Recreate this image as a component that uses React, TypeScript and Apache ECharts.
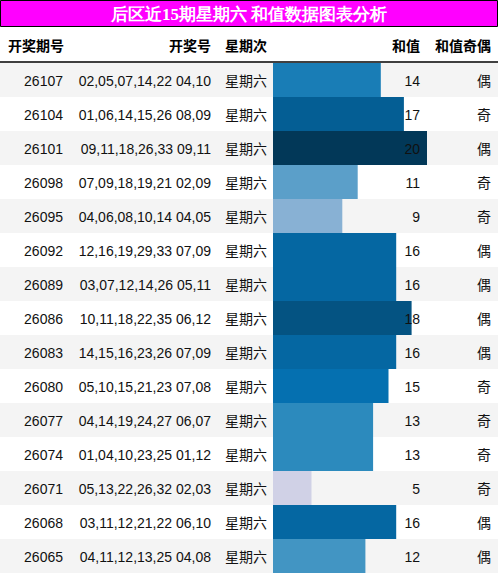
import React, { useEffect, useRef } from "react";
import * as echarts from "echarts";

const periods = ["26107","26104","26101","26098","26095","26092","26089","26086","26083","26080","26077","26074","26071","26068","26065"];
const frontNumbers = ["02,05,07,14,22","01,06,14,15,26","09,11,18,26,33","07,09,18,19,21","04,06,08,10,14","12,16,19,29,33","03,07,12,14,26","10,11,18,22,35","14,15,16,23,26","05,10,15,21,23","04,14,19,24,27","01,04,10,23,25","05,13,22,26,32","03,11,12,21,22","04,11,12,13,25"];
const backNumbers = ["04,10","08,09","09,11","02,09","04,05","07,09","05,11","06,12","07,09","07,08","06,07","01,12","02,03","06,10","04,08"];
const weekdays = ["星期六","星期六","星期六","星期六","星期六","星期六","星期六","星期六","星期六","星期六","星期六","星期六","星期六","星期六","星期六"];
const sums = [14, 17, 20, 11, 9, 16, 16, 18, 16, 15, 13, 13, 5, 16, 12];
const parity = ["偶","奇","偶","奇","奇","偶","偶","偶","偶","奇","奇","奇","奇","偶","偶"];
const headers = ["开奖期号", "开奖号", "星期次", "和值", "和值奇偶"];
const titleText = "后区近15期星期六 和值数据图表分析";
const PuBu = ["#fff7fb","#ece7f2","#d0d1e6","#a6bddb","#74a9cf","#3690c0","#0570b0","#045a8d","#023858"];
const colorMax = 20;

const FONT = "'Liberation Sans', Arial, 'Noto Sans CJK SC', sans-serif";

export default function App() {
  const ref = useRef<HTMLDivElement>(null);
  useEffect(() => {
    document.body.style.margin = "0";
    const chart = echarts.init(ref.current!, null, { renderer: "svg" });
    const rowData = periods.map((_, i) => [0, i]);
    const option: any = {
      animation: false,
      grid: { left: 273, top: 63, width: 154, height: 510 },
      xAxis: { type: "value", min: 0, max: colorMax, show: false },
      yAxis: { type: "category", data: periods, inverse: true, show: false },
      graphic: [
        {
          type: "rect",
          shape: { x: 0.5, y: 0.5, width: 497, height: 26 },
          style: { fill: "#ff00ff", stroke: "#000", lineWidth: 1 },
        },
        {
          type: "text",
          x: 249,
          y: 14,
          style: {
            text: titleText,
            fill: "#fff",
            font: "bold 17px serif",
            align: "center",
            verticalAlign: "middle",
          },
        },
        {
          type: "line",
          shape: { x1: 0, y1: 62, x2: 498, y2: 62 },
          style: { stroke: "#000", lineWidth: 1.5 },
        },
        ...headers.map((h, i) => {
          const pos = [
            { x: 8, align: "left" },
            { x: 211, align: "right" },
            { x: 225, align: "left" },
            { x: 420, align: "right" },
            { x: 491, align: "right" },
          ][i];
          return {
            type: "text",
            x: pos.x,
            y: 46,
            style: {
              text: h,
              fill: "#000",
              font: `bold 14px ${FONT}`,
              align: pos.align,
              verticalAlign: "middle",
            },
          };
        }),
      ],
      series: [
        {
          type: "custom",
          z: 0,
          silent: true,
          data: rowData,
          encode: { x: 0, y: 1 },
          renderItem: (params: any, api: any) => {
            const idx = api.value(1);
            const y = api.coord([0, idx])[1];
            const h = api.size([0, 1])[1];
            return {
              type: "rect",
              shape: { x: 0, y: y - h / 2, width: api.getWidth(), height: h },
              style: { fill: idx % 2 === 0 ? "#f4f4f4" : "#ffffff" },
            };
          },
        },
        {
          type: "bar",
          z: 2,
          silent: true,
          barWidth: "100%",
          barCategoryGap: 0,
          data: sums.map((v, i) => [v, i]),
          encode: { x: 0, y: 1 },
          itemStyle: {
            color: (p: any) => echarts.color.lerp(p.value[0] / colorMax, PuBu),
          },
          label: {
            show: true,
            position: [147, "50%"],
            align: "right",
            verticalAlign: "middle",
            offset: [0, 1],
            color: "#111",
            fontSize: 14,
            fontFamily: FONT,
            textBorderWidth: 0,
            formatter: (p: any) => String(p.value[0]),
          },
        },
        {
          type: "custom",
          z: 10,
          silent: true,
          data: rowData,
          encode: { x: 0, y: 1 },
          renderItem: (params: any, api: any) => {
            const idx = api.value(1);
            const y = api.coord([0, idx])[1];
            const mk = (text: string, x: number, align: string) => ({
              type: "text",
              x,
              y: y + 1,
              style: {
                text,
                fill: "#111",
                font: `14px ${FONT}`,
                align,
                verticalAlign: "middle",
              },
            });
            return {
              type: "group",
              children: [
                mk(periods[idx], 63, "right"),
                mk(frontNumbers[idx] + " " + backNumbers[idx], 211, "right"),
                mk(weekdays[idx], 225, "left"),
                mk(parity[idx], 491, "right"),
              ],
            };
          },
        },
      ],
    };
    chart.setOption(option);
    return () => chart.dispose();
  }, []);
  return <div ref={ref} style={{ width: 498, height: 574 }} />;
}
